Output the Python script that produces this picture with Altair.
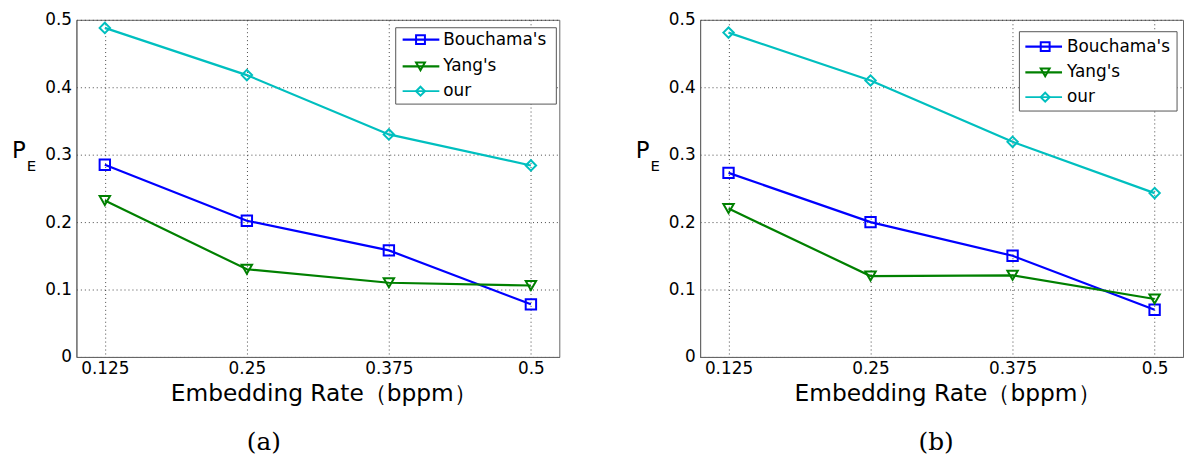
import altair as alt
import pandas as pd

# ---------------- data ----------------
rates = [0.125, 0.25, 0.375, 0.5]
series = ["Bouchama's", "Yang's", "our"]

a_bouchama = [0.285, 0.202, 0.158, 0.078]
a_yang = [0.232, 0.130, 0.110, 0.106]
a_our = [0.488, 0.418, 0.330, 0.284]

b_bouchama = [0.273, 0.200, 0.150, 0.070]
b_yang = [0.220, 0.120, 0.121, 0.086]
b_our = [0.481, 0.410, 0.319, 0.243]

y_ticks = [0, 0.1, 0.2, 0.3, 0.4, 0.5]
x_title = "Embedding Rate（bppm）"
y_title_main = "P"
y_title_sub = "E"
captions = ["(a)", "(b)"]

# ---------------- style ----------------
colors = ["#0000FF", "#008000", "#00BFBF"]
shapes = ["square", "triangle-down", "diamond"]
widths = [2.2, 2.2, 1.7]
SANS = "DejaVu Sans"
SERIF = "DejaVu Serif"
W, H = 487, 340


def one(txt):
    return pd.DataFrame({"t": [txt]})


def text_layer(txt, x, y, size, font=SANS, align="center", baseline="alphabetic"):
    return alt.Chart(one(txt)).mark_text(
        align=align, baseline=baseline, fontSize=size, font=font, color="black"
    ).encode(x=alt.value(x), y=alt.value(y), text="t:N")


def panel(vals, caption, cap_x, leg):
    rows = []
    for s, vs in zip(series, vals):
        for r, v in zip(rates, vs):
            rows.append({"rate": r, "pe": v, "series": s})
    df = pd.DataFrame(rows)

    xs = alt.X("rate:Q",
               scale=alt.Scale(domain=[0.1, 0.525], nice=False, zero=False),
               axis=alt.Axis(values=rates, format=".3~f", title=None, labelPadding=4))
    ys = alt.Y("pe:Q",
               scale=alt.Scale(domain=[0, 0.5], nice=False),
               axis=alt.Axis(values=y_ticks, format=".1~f", title=None, labelPadding=5))
    color = alt.Color("series:N", scale=alt.Scale(domain=series, range=colors), legend=None)

    lines = alt.Chart(df).mark_line().encode(
        x=xs, y=ys, color=color,
        size=alt.Size("series:N", scale=alt.Scale(domain=series, range=widths), legend=None),
    )
    points = alt.Chart(df).mark_point(filled=False, size=110, strokeWidth=2, opacity=1).encode(
        x=xs, y=ys, color=color,
        shape=alt.Shape("series:N", scale=alt.Scale(domain=series, range=shapes), legend=None),
    )

    layers = [lines, points]

    # legend box
    layers.append(
        alt.Chart(one("box")).mark_rect(fill="white", stroke="#555555", strokeWidth=1).encode(
            x=alt.value(leg["x1"]), x2=alt.value(leg["x2"]),
            y=alt.value(leg["y1"]), y2=alt.value(leg["y2"]))
    )
    for i, s in enumerate(series):
        yy = leg["rows"][i]
        layers.append(
            alt.Chart(one(s)).mark_rule(color=colors[i], strokeWidth=widths[i]).encode(
                x=alt.value(leg["lx1"]), x2=alt.value(leg["lx2"]), y=alt.value(yy))
        )
        layers.append(
            alt.Chart(one(s)).mark_point(shape=shapes[i], color=colors[i], filled=False,
                                         size=80, strokeWidth=2, opacity=1).encode(
                x=alt.value(leg["mx"]), y=alt.value(yy))
        )
        layers.append(text_layer(s, leg["tx"], yy, 17, align="left", baseline="middle"))

    # axis titles & caption
    layers.append(text_layer(y_title_main, -65, 139, 23, align="left"))
    layers.append(text_layer(y_title_sub, -50, 152, 15, align="left"))
    layers.append(text_layer(x_title, W / 2 + 6, 384, 23.5))
    layers.append(text_layer(caption, cap_x, 434, 25, font=SERIF))

    return alt.layer(*layers).properties(width=W, height=H)


leg_a = dict(x1=322, x2=484, y1=8, y2=85, rows=[20, 47, 72], lx1=329, lx2=366, mx=347, tx=370)
leg_b = dict(x1=322, x2=481, y1=12, y2=92, rows=[27, 53, 78], lx1=328, lx2=365, mx=348, tx=370)

pa = panel([a_bouchama, a_yang, a_our], captions[0], 189, leg_a)
pb = panel([b_bouchama, b_yang, b_our], captions[1], 238, leg_b)

chart = alt.hconcat(pa, pb, spacing=75).properties(
    padding={"left": 3, "top": 0, "right": 0, "bottom": 0}
).configure_view(
    stroke="#666666", strokeWidth=1
).configure_axis(
    labelFont=SANS, labelFontSize=17, labelColor="black",
    domainColor="#666666", domainWidth=1,
    ticks=False,
    grid=True, gridColor="#333333", gridDash=[1, 3], gridWidth=1, gridOpacity=0.9,
)

chart.save("out.html", embed_options={"renderer": "svg", "actions": False})
